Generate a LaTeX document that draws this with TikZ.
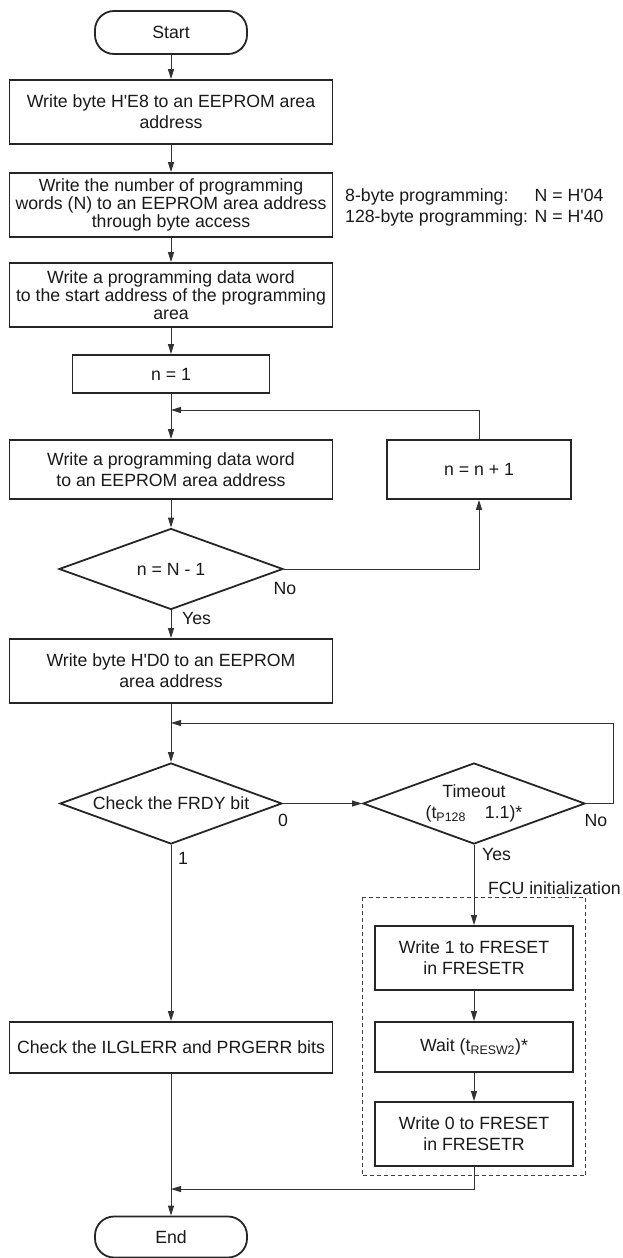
\documentclass[tikz,border=0pt]{standalone}
\usepackage{fontspec}
\newfontfamily\flowfont{Liberation Sans}
\usetikzlibrary{arrows.meta,positioning,shapes.geometric}

\begin{document}
\begin{tikzpicture}[
      x=1pt, y=-1pt,
      font=\flowfont\fontsize{17.7}{21}\selectfont,
      shapebase/.style = {draw=black!85, line width=1.8pt, align=center, inner sep=0pt, text=black!90},
      box/.style = {shapebase, rectangle, minimum width=323pt, minimum height=64pt},
      term/.style = {shapebase, rectangle, rounded corners=19pt, minimum width=152pt, minimum height=43pt},
      dec/.style = {shapebase, diamond, aspect=2.75, minimum width=224pt, minimum height=81pt},
      tight/.style = {font=\flowfont\fontsize{17.7}{18.3}\selectfont},
      arrow/.style = {-{Triangle[length=10pt,width=6pt]}, line width=1pt, black!80},
      link/.style = {line width=1pt, black!75},
      lbl/.style = {inner sep=0pt, text=black!90}
    ]
    \useasboundingbox (0,0) rectangle (623,1258);

    % main column
    \node[term] (start) at (171,32.5) {Start};
    \node[box] (wrE8) at (171,112) {Write byte H'E8 to an EEPROM area\\address};
    \node[box, tight] (wrN) at (171,205) {Write the number of programming\\words (N) to an EEPROM area address\\through byte access};
    \node[box, tight] (wrFirst) at (171,295) {Write a programming data word\\to the start address of the programming\\area};
    \node[box, minimum width=197pt, minimum height=38pt] (nOne) at (171,374) {n = 1};
    \node[box, minimum height=59pt] (wrWord) at (171,469.5) {Write a programming data word\\to an EEPROM area address};
    \node[box, minimum width=184pt, minimum height=59pt] (nInc) at (479,469.5) {n = n + 1};
    \node[dec] (lastQ) at (171,569) {n = N - 1};
    \node[box] (wrD0) at (171,671) {Write byte H'D0 to an EEPROM\\area address};
    \node[dec, minimum width=222pt] (frdyQ) at (171,803.5) {Check the FRDY bit};
    \node[dec, minimum width=222pt] (toQ) at (474,803.5) {Timeout\\(t\textsubscript{P128}\hspace{19pt}1.1)*};
    \node[box, minimum height=51pt] (chkErr) at (171,1047.5) {Check the ILGLERR and PRGERR bits};
    \node[term, minimum height=41pt] (stop) at (171,1237) {End};

    % FCU initialization
    \node[box, minimum width=198pt] (rst1) at (474,958) {Write 1 to FRESET\\in FRESETR};
    \node[box, minimum width=198pt, minimum height=50pt] (waitR) at (474,1047) {Wait (t\textsubscript{RESW2})*};
    \node[box, minimum width=198pt] (rst0) at (474,1134) {Write 0 to FRESET\\in FRESETR};
    \draw[link, dash pattern=on 4pt off 3pt] ([xshift=-12pt,yshift=28pt]rst1.north west) rectangle ([xshift=12pt,yshift=-9pt]rst0.south east);

    % notes and labels
    \node[lbl, anchor=west] (note) at (345,207.5) {\begin{tabular}{@{}l@{ }l@{}}8-byte programming: & N = H'04\\128-byte programming: & N = H'40\end{tabular}};
    \node[lbl] (noA) at (285,588) {No};
    \node[lbl, anchor=west] (yesA) at (182,618) {Yes};
    \node[lbl] (zeroB) at (283,820) {0};
    \node[lbl] (noB) at (596,820) {No};
    \node[lbl, anchor=west] (oneB) at (178,858) {1};
    \node[lbl, anchor=west] (yesB) at (482,854) {Yes};
    \node[lbl, anchor=east] (fcu) at (621,888) {FCU initialization};

    \coordinate (loopA) at (171,410);
    \coordinate (loopB) at (171,723);
    \coordinate (joinC) at (171,1189);

    \draw[arrow] (start) -- (wrE8);
    \draw[arrow] (wrE8) -- (wrN);
    \draw[arrow] (wrN) -- (wrFirst);
    \draw[arrow] (wrFirst) -- (nOne);
    \draw[arrow] (nOne) -- (wrWord);
    \draw[arrow] (nInc.north) |- (loopA);
    \draw[arrow] (wrWord) -- (lastQ);
    \draw[arrow] (lastQ.east) -| (nInc.south);
    \draw[arrow] (lastQ.south) -- (wrD0.north);
    \draw[arrow] (wrD0) -- (frdyQ);
    \draw[arrow] (frdyQ.east) -- (toQ.west);
    \draw[arrow] (toQ.east) -- ++(28,0) |- (loopB);
    \draw[arrow] (toQ.south) -- (rst1.north);
    \draw[arrow] (rst1) -- (waitR);
    \draw[arrow] (waitR) -- (rst0);
    \draw[arrow] (frdyQ.south) -- (chkErr.north);
    \draw[arrow] (chkErr) -- (stop);
    \draw[arrow] (rst0.south) |- (joinC);
  \end{tikzpicture}
\end{document}
